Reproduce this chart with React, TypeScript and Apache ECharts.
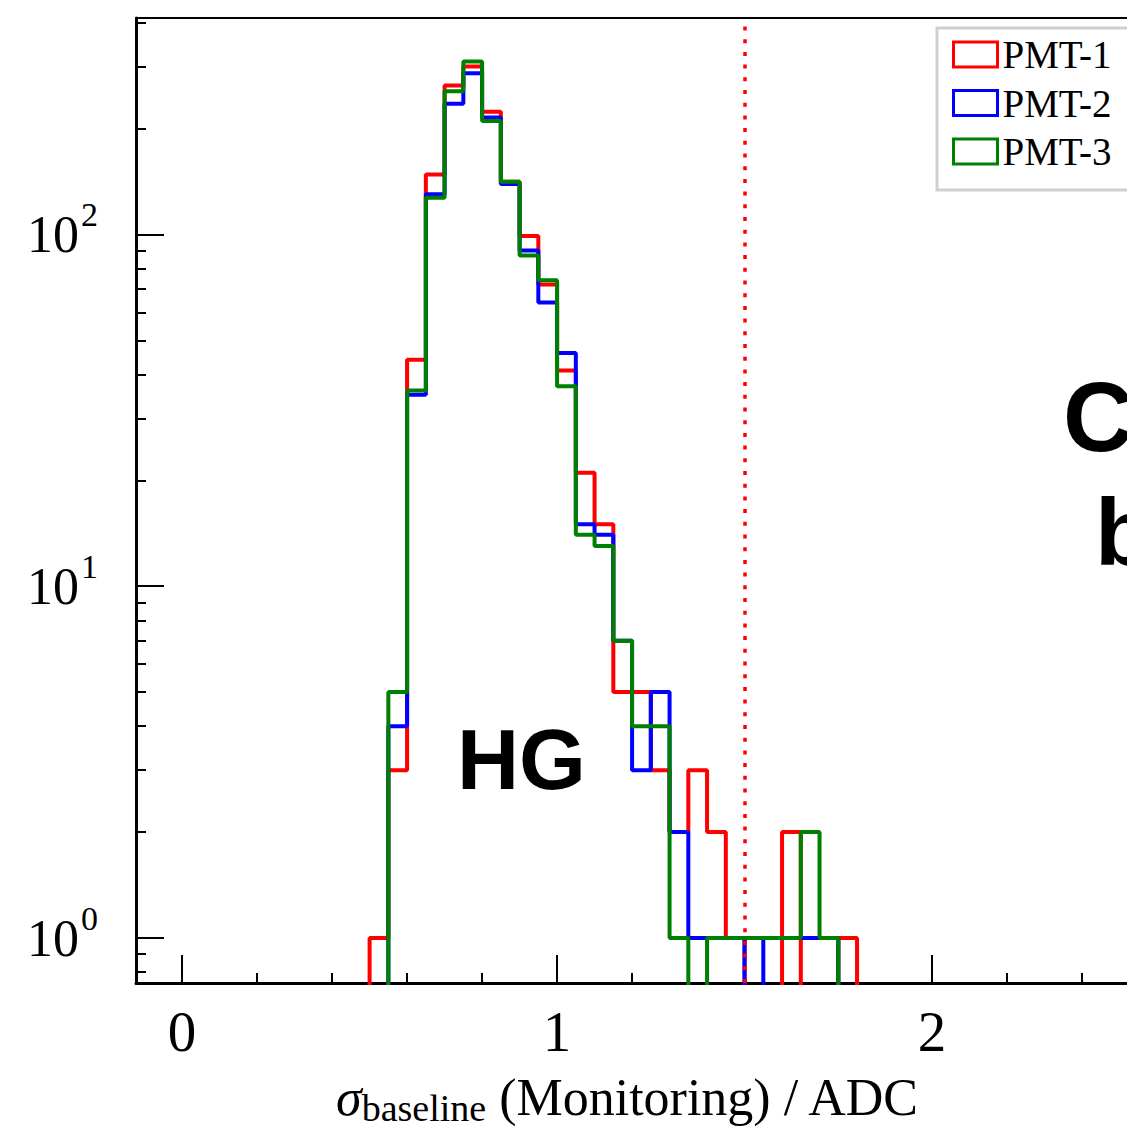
import React, { useEffect, useRef } from 'react';
import * as echarts from 'echarts';

// ---- data ----
const binLeftEdges = [0.5, 0.55, 0.6, 0.65, 0.7, 0.75, 0.8, 0.85, 0.9, 0.95, 1.0, 1.05, 1.1, 1.15, 1.2, 1.25, 1.3, 1.35, 1.4, 1.45, 1.5, 1.55, 1.6, 1.65, 1.7, 1.75];
const binWidth = 0.05;
const pmt1Counts = [1, 3, 44, 148, 265, 300, 223, 141, 99, 72, 41, 21, 15, 5, 5, 3, 2, 3, 2, 1, 0, 0, 2, 0, 0, 1];
const pmt2Counts = [0, 4, 35, 130, 235, 287, 215, 139, 90, 64, 46, 15, 14, 7, 3, 5, 2, 1, 1, 1, 0, 1, 1, 1, 1, 0];
const pmt3Counts = [0, 5, 36, 127, 255, 310, 210, 141, 87, 74, 37, 14, 13, 7, 4, 4, 1, 0, 1, 1, 1, 1, 1, 2, 1, 0];
const seriesNames = ['PMT-1', 'PMT-2', 'PMT-3'];
const seriesColors = ['#ff0000', '#0000ff', '#008000'];
const thresholdX = 1.5;
const xMajorTicks = [0, 1, 2];
const xMinorTicks = [0.2, 0.4, 0.6, 0.8, 1.2, 1.4, 1.6, 1.8, 2.2, 2.4, 2.6, 2.8];
const yMajorTicks = [1, 10, 100];
const yMinorTicks = [0.8, 0.9, 2, 3, 4, 5, 6, 7, 8, 9, 20, 30, 40, 50, 60, 70, 80, 90, 200, 300, 400];
const xRange = [-0.123, 3.0];
const yRange = [0.745, 412];
const xTitle = '{s|σ}{sub|baseline} (Monitoring) / ADC';
const panelLabel = 'HG';

const SERIF = "'Liberation Serif', 'Times New Roman', serif";
const SANS = "'Liberation Sans', Arial, sans-serif";
// zero-count bins are drawn far below the visible axis range (log scale has no 0)
const ZERO_DRAW = 0.1;

// the figure is cropped on the right: the chart canvas is wider than the visible window
const CANVAS_W = 1400;
const VIEW_W = 1127;
const VIEW_H = 1134;

function histPoints(counts: number[]) {
  const pts: number[][] = [[binLeftEdges[0] - binWidth, ZERO_DRAW]];
  counts.forEach((c, i) => pts.push([binLeftEdges[i], c > 0 ? c : ZERO_DRAW]));
  pts.push([binLeftEdges[binLeftEdges.length - 1] + binWidth, ZERO_DRAW]);
  return pts;
}

export default function App() {
  const ref = useRef<HTMLDivElement>(null);
  useEffect(() => {
    const chart = echarts.init(ref.current!, null, { renderer: 'svg' });
    const allCounts = [pmt1Counts, pmt2Counts, pmt3Counts];
    const series: any[] = allCounts.map((counts, i) => ({
      name: seriesNames[i],
      type: 'line',
      step: 'end',
      data: histPoints(counts),
      showSymbol: false,
      symbol: 'none',
      clip: true,
      color: seriesColors[i],
      lineStyle: { color: seriesColors[i], width: 4 },
      z: 2 + i,
    }));
    series.push({
      name: 'threshold',
      type: 'line',
      data: [],
      z: 10,
      markLine: {
        silent: true,
        symbol: 'none',
        label: { show: false },
        lineStyle: { color: '#ff0000', type: [4, 8.7], width: 3.5 },
        data: [{ xAxis: thresholdX }],
      },
    });

    const option: any = {
      animation: false,
      backgroundColor: '#ffffff',
      grid: {
        left: 136,
        top: 18,
        right: CANVAS_W - 1307,
        bottom: 151,
        show: true,
        borderColor: '#000',
        borderWidth: 2,
        backgroundColor: 'transparent',
      },
      title: {
        text: xTitle,
        left: 336,
        top: 1067,
        padding: 0,
        textStyle: {
          fontFamily: SERIF,
          fontSize: 52,
          fontWeight: 'normal',
          color: '#000',
          rich: {
            s: { fontFamily: SERIF, fontStyle: 'italic', fontSize: 52, color: '#000' },
            sub: { fontFamily: SERIF, fontSize: 38, color: '#000', padding: [22, 0, 0, 0] },
          },
        },
      },
      legend: {
        orient: 'vertical',
        left: 937,
        top: 28,
        icon: 'rect',
        itemWidth: 44,
        itemHeight: 25,
        itemGap: 9.5,
        itemTextGap: 8,
        padding: [7, 80, 19, 15],
        backgroundColor: '#fff',
        borderColor: '#cfcfcf',
        borderWidth: 3,
        borderRadius: 0,
        textStyle: { fontFamily: SERIF, fontSize: 39, lineHeight: 39, color: '#000' },
        data: seriesNames.map((n, i) => ({
          name: n,
          itemStyle: { color: '#ffffff', borderColor: seriesColors[i], borderWidth: 3 },
        })),
      },
      xAxis: [
        {
          type: 'value',
          min: xRange[0],
          max: xRange[1],
          position: 'bottom',
          axisLine: { show: true, onZero: false, lineStyle: { color: '#000', width: 3 } },
          axisTick: { show: true, inside: true, length: 28, customValues: xMajorTicks, lineStyle: { color: '#000', width: 2 } },
          axisLabel: { show: true, customValues: xMajorTicks, margin: 20, fontFamily: SERIF, fontSize: 57, color: '#000' },
          splitLine: { show: false },
        },
        {
          type: 'value',
          min: xRange[0],
          max: xRange[1],
          position: 'bottom',
          axisLine: { show: false, onZero: false },
          axisTick: { show: true, inside: true, length: 10, customValues: xMinorTicks, lineStyle: { color: '#000', width: 2 } },
          axisLabel: { show: false },
          splitLine: { show: false },
        },
      ],
      yAxis: [
        {
          type: 'log',
          logBase: 10,
          min: yRange[0],
          max: yRange[1],
          position: 'left',
          axisLine: { show: true, onZero: false, lineStyle: { color: '#000', width: 3 } },
          axisTick: { show: true, inside: true, length: 28, customValues: yMajorTicks, lineStyle: { color: '#000', width: 2 } },
          axisLabel: {
            show: true,
            customValues: yMajorTicks,
            margin: 38,
            formatter: (v: number) => `{a|10}{b|${Math.round(Math.log10(v))}}`,
            rich: {
              a: { fontFamily: SERIF, fontSize: 52, color: '#000' },
              b: { fontFamily: SERIF, fontSize: 34, color: '#000', padding: [0, 0, 40, 2] },
            },
          },
          splitLine: { show: false },
        },
        {
          type: 'log',
          logBase: 10,
          min: yRange[0],
          max: yRange[1],
          position: 'left',
          axisLine: { show: false, onZero: false },
          axisTick: { show: true, inside: true, length: 10, customValues: yMinorTicks, lineStyle: { color: '#000', width: 2 } },
          axisLabel: { show: false },
          splitLine: { show: false },
        },
      ],
      graphic: [
        {
          type: 'text',
          left: 457,
          top: 716,
          z: 20,
          style: { text: panelLabel, fontFamily: SANS, fontWeight: 'bold', fontSize: 86, fill: '#000' },
        },
        {
          type: 'text',
          left: 1063,
          top: 368,
          z: 20,
          style: { text: 'C', fontFamily: SANS, fontWeight: 'bold', fontSize: 98, fill: '#000' },
        },
        {
          type: 'text',
          left: 1095,
          top: 485,
          z: 20,
          style: { text: 'b', fontFamily: SANS, fontWeight: 'bold', fontSize: 94, fill: '#000' },
        },
      ],
      series,
    };
    chart.setOption(option);
    return () => chart.dispose();
  }, []);
  return (
    <div
      style={{ position: 'fixed', left: 0, top: 0, width: VIEW_W, height: VIEW_H, background: '#fff', overflow: 'hidden' }}
    >
      <div ref={ref} style={{ width: CANVAS_W, height: VIEW_H }} />
    </div>
  );
}
